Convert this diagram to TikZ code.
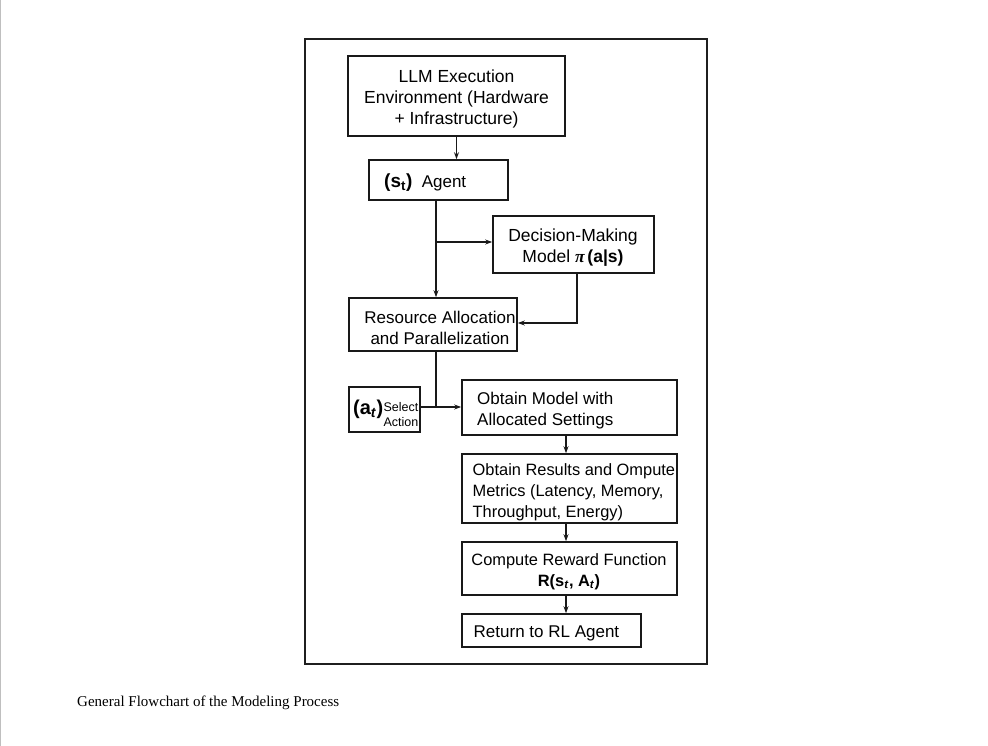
\documentclass[tikz,border=0pt]{standalone}
\usepackage{fontspec}
\setmainfont{Liberation Sans}
\newfontfamily\capfont{Liberation Serif}
\newfontfamily\grfont{Liberation Serif}
\usetikzlibrary{arrows.meta}
\begin{document}
\begin{tikzpicture}[x=1pt,y=-1pt,
  box/.style={draw=black!90, line width=1.6pt, minimum width=#1, inner sep=0pt},
  txt/.style={inner sep=0pt, align=left, font=\fontsize{17}{21}\selectfont},
  ctxt/.style={inner sep=0pt, align=center, font=\fontsize{17}{21}\selectfont},
  arr/.style={draw=black!90, line width=1.2pt, -{Stealth[length=7pt,width=5pt]}},
  conn/.style={draw=black!90, line width=1.2pt}]
\useasboundingbox (0,0) rectangle (988,746);
\fill[white] (0,0) rectangle (988,746);
\draw[black!25, line width=1pt] (0.5,0) -- (0.5,746);
% outer frame
\node[draw=black!88, line width=2.2pt, minimum width=402pt, minimum height=625pt, inner sep=0pt] (frame) at (506,351.5) {};
% boxes
\node[box=217pt, minimum height=80pt] (llm) at (456.5,96) {};
\node[ctxt, font=\fontsize{17.5}{21}\selectfont] (llmt) at (456.5,98.5) {LLM Execution\\Environment (Hardware\\+ Infrastructure)};
\node[box=139pt, minimum height=40pt] (agent) at (438.5,180) {};
\node[txt, anchor=west] (agentt) at (384,183) {{\fontsize{19}{21}\selectfont\textbf{(s\textsubscript{t})}}\ \ Agent};
\node[box=161pt, minimum height=57pt] (dec) at (573.5,244.5) {};
\node[ctxt, font=\fontsize{17.5}{21}\selectfont] (dect) at (573,248) {Decision-Making\\Model {\grfont\bfseries\itshape π}\,\textbf{(a|s)}};
\node[box=168pt, minimum height=53pt] (res) at (433,324.5) {};
\node[ctxt] (rest) at (440,328) {Resource Allocation\\and Parallelization};
\node[box=71pt, minimum height=45pt] (sel) at (384.5,409.5) {};
\node[inner sep=0pt, anchor=west, font=\fontsize{20}{22}\selectfont] (selt) at (353,409.5) {\textbf{(a\textsubscript{\textit{t}})}};
\node[inner sep=0pt, anchor=east, align=right, font=\fontsize{12.5}{15}\selectfont] (selt2) at (418.5,414.5) {Select\\Action};
\node[box=215pt, minimum height=55pt] (obt) at (569.5,407.5) {};
\node[txt, anchor=west] (obtt) at (477,411) {Obtain Model with\\Allocated Settings};
\node[box=215pt, minimum height=69pt] (resu) at (569.5,488.5) {};
\node[txt, anchor=west, font=\fontsize{16.4}{21}\selectfont] (resut) at (472.5,492) {Obtain Results and Ompute\\Metrics (Latency, Memory,\\Throughput, Energy)};
\node[box=215pt, minimum height=53pt] (rew) at (569.5,568.5) {};
\node[ctxt, font=\fontsize{16.4}{21}\selectfont] (rewt) at (569,571.5) {Compute Reward Function\\\textbf{R(s\textsubscript{\textit{t}}, A\textsubscript{\textit{t}})}};
\node[box=179pt, minimum height=33pt] (ret) at (551.5,630.5) {};
\node[txt, anchor=west] (rett) at (473.5,633.5) {Return to RL Agent};
% caption
\node[inner sep=0pt, anchor=west, font=\capfont\fontsize{15}{17}\selectfont] (cap) at (77,703) {General Flowchart of the Modeling Process};
% connectors
\coordinate (j1) at (436,242);
\coordinate (j2) at (577,323);
\coordinate (j3) at (436,407);
\coordinate (j4) at (566,0);
\draw[arr] (llm.south) -- (llm.south |- agent.north);
\draw[arr] (agent.south -| j1) -- (res.north -| j1);
\draw[arr] (j1) -- (dec.west |- j1);
\draw[arr] (dec.south -| j2) -- (j2) -- (res.east |- j2);
\draw[conn] (res.south -| j3) -- (j3);
\draw[arr] (sel.east |- j3) -- (obt.west |- j3);
\draw[arr] (obt.south -| j4) -- (resu.north -| j4);
\draw[arr] (resu.south -| j4) -- (rew.north -| j4);
\draw[arr] (rew.south -| j4) -- (ret.north -| j4);
\end{tikzpicture}
\end{document}
